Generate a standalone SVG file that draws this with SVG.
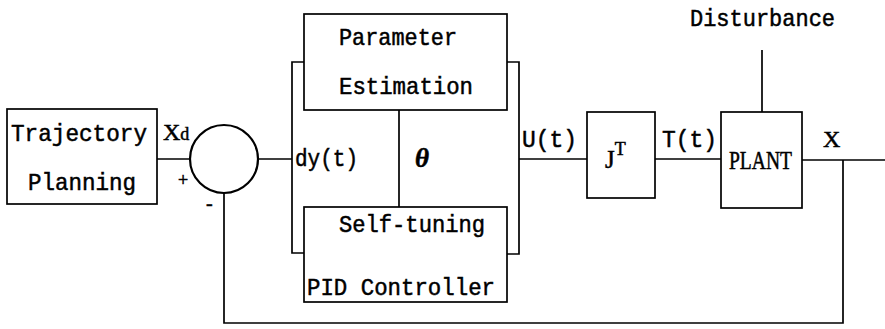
<svg xmlns="http://www.w3.org/2000/svg" width="885" height="329" viewBox="0 0 885 329">
<style>
.box{fill:#fff;stroke:#000;stroke-width:1.7}
.ln{fill:none;stroke:#000;stroke-width:1.7}
.t{font-family:"Liberation Mono",monospace;font-size:24px;fill:#000;stroke:#000;stroke-width:0.5}
.s{font-family:"Liberation Serif",serif;fill:#000;stroke:#000;stroke-width:0.5}
</style>
<rect width="885" height="329" fill="#fff"/>
<g id="connectors">
<path class="ln" d="M157 159H190"/>
<path class="ln" d="M258 159H292"/>
<path class="ln" d="M304 62H292V253H304"/>
<path class="ln" d="M507 62H519V254H507"/>
<path class="ln" d="M399 110V207"/>
<path class="ln" d="M519 159H587"/>
<path class="ln" d="M655 159H721"/>
<path class="ln" d="M762 50V112"/>
<path class="ln" d="M802 160H885"/>
<path class="ln" d="M843 160V323H224V193"/>
</g>
<g id="trajectory">
<rect class="box" x="7" y="109" width="150" height="95"/>
<text class="t" x="11" y="141" textLength="136" lengthAdjust="spacingAndGlyphs">Trajectory</text>
<text class="t" x="28" y="190" textLength="108" lengthAdjust="spacingAndGlyphs">Planning</text>
</g>
<g id="sum">
<circle cx="224" cy="159" r="34" fill="#fff" stroke="#000" stroke-width="2.2"/>
<text class="s" x="163" y="140" style="font-size:24px">X<tspan style="font-size:18px">d</tspan></text>
<text class="s" x="178" y="186" style="font-size:18px">+</text>
<text class="s" x="206" y="210" style="font-size:20px">-</text>
</g>
<g id="param">
<rect class="box" x="304" y="14" width="203" height="96"/>
<text class="t" x="339" y="45" textLength="118" lengthAdjust="spacingAndGlyphs">Parameter</text>
<text class="t" x="339" y="94" textLength="134" lengthAdjust="spacingAndGlyphs">Estimation</text>
</g>
<g id="pid">
<rect class="box" x="304" y="207" width="203" height="95"/>
<text class="t" x="339" y="232" textLength="146" lengthAdjust="spacingAndGlyphs">Self-tuning</text>
<text class="t" x="307" y="295" textLength="188" lengthAdjust="spacingAndGlyphs">PID Controller</text>
</g>
<g id="labels">
<text class="t" x="295" y="166" textLength="63" lengthAdjust="spacingAndGlyphs">dy(t)</text>
<text class="s" x="415" y="167" style="font-size:27px;font-style:italic;font-weight:bold">θ</text>
<text class="t" x="522" y="147" textLength="55" lengthAdjust="spacingAndGlyphs">U(t)</text>
<text class="t" x="662" y="147" textLength="55" lengthAdjust="spacingAndGlyphs">T(t)</text>
<text class="s" x="823" y="147" style="font-size:24px">X</text>
<text class="t" x="690" y="26" textLength="145" lengthAdjust="spacingAndGlyphs">Disturbance</text>
</g>
<g id="jt">
<rect class="box" x="587" y="112" width="68" height="86"/>
<text class="s" x="605" y="168" style="font-size:25px">J<tspan style="font-size:18px" dy="-13">T</tspan></text>
</g>
<g id="plant">
<rect class="box" x="721" y="112" width="81" height="96"/>
<text class="s" x="729" y="169" style="font-size:25px" textLength="63" lengthAdjust="spacingAndGlyphs">PLANT</text>
</g>
</svg>
